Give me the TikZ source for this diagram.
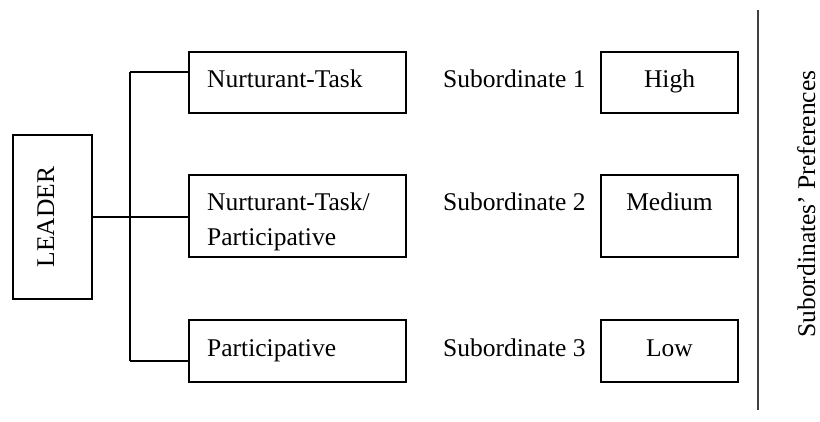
\documentclass[tikz,border=0pt]{standalone}
\usepackage{fontspec}
\setmainfont{Liberation Serif}
\usetikzlibrary{positioning,calc}
\tikzset{
  frame/.style = {rectangle, draw=black, line width=1.6pt, inner sep=0pt},
  txt/.style   = {inner sep=0pt, font=\fontsize{25.5}{35}\selectfont, align=left},
  wire/.style  = {draw=black, line width=1.6pt},
}

\begin{document}
\begin{tikzpicture}[x=1pt, y=-1pt]
  \useasboundingbox (0,0) rectangle (820,422);

  % leader box
  \node[frame, minimum width=79pt, minimum height=164pt] (leader) at (52.5,217) {};
  \node[txt, rotate=90, anchor=base] (leadertxt) at (54,217) {LEADER};

  % one row per subordinate (\ya = baseline of last line inside the style box)
  \foreach \r/\ytop/\ybot/\yw/\yb/\ya/\lbl/\pref in {%
      1/52/113/72/88/88/{Nurturant-Task}/High,
      2/175/257/217/211/246/{Nurturant-Task/\\Participative}/Medium,
      3/320/382/361/356/356/{Participative}/Low} {
    \node[frame, minimum width=217pt, minimum height={\ybot-\ytop}] (act\r) at (297.5,{(\ytop+\ybot)/2}) {};
    \node[txt, anchor=base west] (acttxt\r) at (207,\ya) {\lbl};
    \node[txt, anchor=base west] (sub\r) at (443,\yb) {Subordinate \r};
    \node[frame, minimum width=137pt, minimum height={\ybot-\ytop}] (pref\r) at (669.5,{(\ytop+\ybot)/2}) {};
    \node[txt, anchor=base] (preftxt\r) at (669.5,\yb) {\pref};
    \coordinate (tap\r) at (130,\yw);
    \draw[wire] (tap\r) -- (tap\r -| act\r.west);
  }
  \draw[wire] (tap1) -- (tap3);
  \draw[wire] (leader.east) -- (tap2);

  % preferences axis
  \coordinate (axtop) at (758,10);
  \coordinate (axbot) at (758,410);
  \draw[wire, draw=black!75] (axtop) -- (axbot);
  \node[txt, rotate=90, anchor=base] (axlbl) at (815,204) {Subordinates' Preferences};
\end{tikzpicture}
\end{document}
